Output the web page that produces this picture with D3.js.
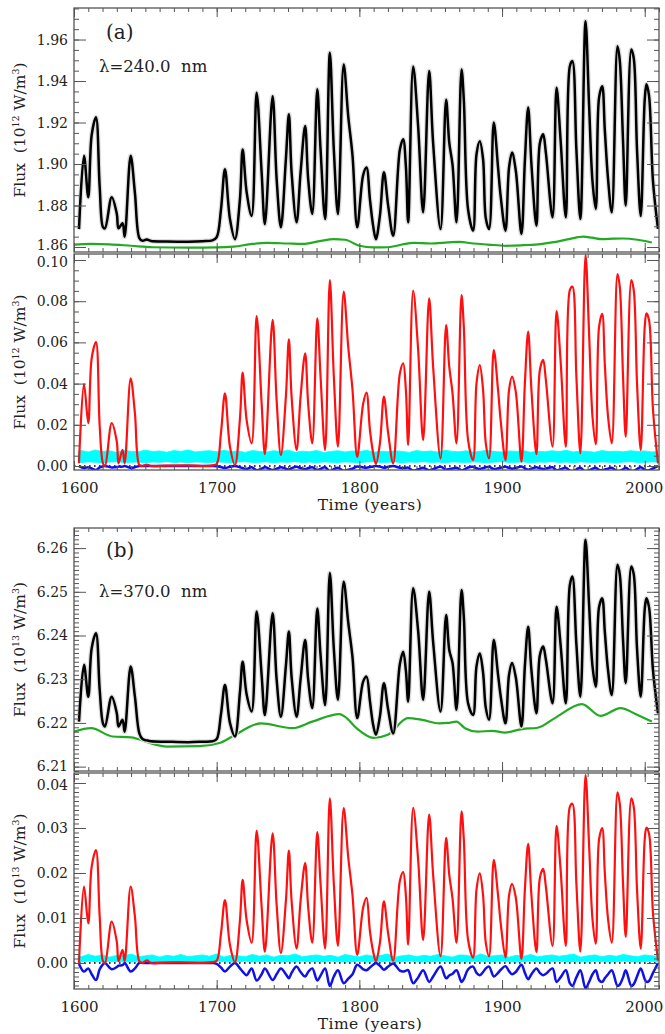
<!DOCTYPE html>
<html>
<head>
<meta charset="utf-8">
<script src="https://cdn.jsdelivr.net/npm/d3@7/dist/d3.min.js"></script>
<style>
  body { margin: 0; background: #fff; }
  svg text { font-family: "DejaVu Serif", serif; fill: #222; }
</style>
</head>
<body>
<svg id="chart" width="665" height="1034"></svg>
<script>
// ---- data --------------------------------------------------------------

// sample years shared by the cycle curves
const years = [
  1603.5,1607,1610,1612.4,1615.4,1618,1620.3,1621.7,1626.4,1630,1631.2,1634,1635.5,1639.7,1642.7,1645.8,1648,1651,1654,1665,1680,1690,1697,
  1700,1703,1705.8,1709.3,1712.8,1716.3,1718.2,1721,1724.5,1728,1731.5,1733.8,1739.2,1742,1745,1748.5,1750.6,1752.5,1756,1758.8,1762,1764.1,1767,1770.5,1772.8,1776,1779.3,1782.1,1785,1789,1792.2,1795.2,1798.5,
  1802.7,1805,1807.4,1809.7,1811.6,1814.4,1817.2,1820.2,1823.7,1828.4,1830.7,1832.6,1834.2,1837.7,1841.2,1844.7,1848.9,1851.7,1856.9,1860.8,1863,1865.3,1868.1,1871.6,1873.2,1876.2,1879.7,1882.1,1884.4,1886.7,1888.6,1890.9,1894.2,1897.2,1899.1,
  1902.4,1904.9,1907,1909.6,1913.6,1916,1918.3,1920.6,1924.1,1926.5,1928.8,1930.7,1935.4,1938.2,1941,1944.7,1947.5,1949.3,1952.1,1954.9,1958.5,1961,1963.4,1965.7,1968,1970.2,1972,1974.3,1976.9,1980.9,1982.5,1984.8,1986.7,1990.6,1992.3,1994.6,1997.2,
  2000,2001.2,2003,2005.8,2009.3
];

// (a) 240 nm total flux, 10^12 W/m^3
const totalA = [
  1.8686,1.9040,1.8840,1.9140,1.9225,1.8890,1.8696,1.8690,1.8840,1.8760,1.8690,1.8715,1.8650,1.9040,1.8860,1.8643,1.8630,1.8636,1.8629,1.8627,1.8626,1.8628,1.8632,
  1.8647,1.8780,1.8975,1.8735,1.8638,1.8830,1.9070,1.8864,1.8750,1.9344, 1.8960,1.8710,1.9327,1.8930,1.8695,1.9023,1.9240,1.8960,1.8719,1.8960, 1.9183,1.8930,1.8759,1.9360,1.9070,1.8735,1.9536,1.9070,1.8759,1.9480, 1.9230,1.9040,1.8695,
  1.8948,1.8983,1.8830,1.8700,1.8638,1.8751,1.8960,1.8799,1.8654,1.9070, 1.9120,1.8990,1.8719,1.9470,1.9180,1.8767,1.9448,1.9100,1.8687,1.9310, 1.9103,1.8996,1.8719,1.9456,1.9310,1.8780,1.8679,1.9047,1.9110,1.9023, 1.8740,1.8687,1.9200,1.8983,1.8840,
  1.8679,1.8983,1.9055,1.8970,1.8663,1.9015,1.9272,1.8999,1.8703,1.9100, 1.9143,1.9055,1.8743,1.9368,1.9119,1.8743,1.9470,1.9496,1.9070,1.8735, 1.9688,1.9284,1.8916,1.8783,1.9320,1.9375,1.9167,1.8927,1.8767,1.9568, 1.9500,1.9110,1.8800,1.9552,1.9510,1.9070,1.8750,
  1.9310,1.9384,1.9330,1.8916,1.8687
];
// (a) faculae (red)
const faculaeA = [
  0.0013,0.0398,0.0208,0.0523,0.0601,0.0194,0.0013,0.0000,0.0208,0.0118,0.0013,0.0078,0.0013,0.0426,0.0256,0.0005,0.0000,0.0007,0.0000,0.0002,0.0003,0.0000,0.0003,
  0.0010,0.0160,0.0353,0.0094,0.0005,0.0230,0.0453,0.0223,0.0110,0.0728, 0.0304,0.0058,0.0709,0.0320,0.0053,0.0337,0.0615,0.0337,0.0078,0.0337, 0.0547,0.0304,0.0110,0.0717,0.0434,0.0078,0.0903,0.0434,0.0094,0.0846, 0.0578,0.0369,0.0044,
  0.0304,0.0356,0.0175,0.0061,0.0010,0.0110,0.0337,0.0159,0.0013,0.0450, 0.0498,0.0369,0.0102,0.0851,0.0563,0.0126,0.0814,0.0482,0.0037,0.0684, 0.0482,0.0353,0.0110,0.0830,0.0676,0.0126,0.0029,0.0401,0.0490,0.0370, 0.0110,0.0037,0.0563,0.0369,0.0215,
  0.0029,0.0369,0.0434,0.0361,0.0021,0.0401,0.0652,0.0369,0.0058,0.0466, 0.0515,0.0418,0.0094,0.0752,0.0515,0.0094,0.0854,0.0871,0.0434,0.0061, 0.1024,0.0644,0.0239,0.0105,0.0676,0.0738,0.0498,0.0239,0.0110,0.0932, 0.0871,0.0434,0.0142,0.0903,0.0854,0.0401,0.0078,
  0.0676,0.0741,0.0709,0.0272,0.0013
];
// (a) sunspots (blue)
const spotsA = [
  -0.0001,-0.0010,-0.0006,-0.0012,-0.0019,-0.0007,-0.0002,0.0000,-0.0007,-0.0005,-0.0003,-0.0003,0.0000,-0.0010,-0.0006,0.0000,0,0,0,0,0,0,0,
  -0.0001,-0.0005,-0.0010,-0.0004,0.0000,-0.0006,-0.0010,-0.0014,-0.0006,-0.0020, -0.0013,-0.0006,-0.0019,-0.0013,-0.0006,-0.0013,-0.0017,-0.0011,-0.0004,-0.0010, -0.0015,-0.0010,-0.0006,-0.0020,-0.0014,-0.0006,-0.0026,-0.0015,-0.0008,-0.0023, -0.0018,-0.0013,-0.0002,
  -0.0007,-0.0008,-0.0005,-0.0002,0.0000,-0.0003,-0.0008,-0.0004,0.0000,-0.0009, -0.0010,-0.0009,-0.0008,-0.0023,-0.0016,-0.0008,-0.0021,-0.0015,-0.0004,-0.0017, -0.0014,-0.0012,-0.0008,-0.0021,-0.0018,-0.0007,-0.0004,-0.0011,-0.0014,-0.0010, -0.0006,-0.0004,-0.0015,-0.0011,-0.0008,
  -0.0004,-0.0009,-0.0013,-0.0010,-0.0002,-0.0011,-0.0018,-0.0013,-0.0006,-0.0011, -0.0014,-0.0012,-0.0006,-0.0021,-0.0016,-0.0008,-0.0023,-0.0026,-0.0016,-0.0008, -0.0028,-0.0021,-0.0013,-0.0008,-0.0019,-0.0021,-0.0017,-0.0013,-0.0008,-0.0026, -0.0024,-0.0016,-0.0008,-0.0026,-0.0024,-0.0015,-0.0006,
  -0.0018,-0.0021,-0.0020,-0.0011,0.0000
];

// (b) 370 nm total flux, 10^13 W/m^3
const totalB = [
  6.2203,6.2333,6.2260,6.2371,6.2405,6.2276,6.2199,6.2192,6.2260,6.2222,6.2192,6.2207,6.2180,6.2329,6.2260,6.2176,6.2163,6.2160,6.2158,6.2157,6.2156,6.2157,6.2158,
  6.2163,6.2220,6.2287,6.2200,6.2169,6.2270,6.2340,6.2265,6.2226,6.2455, 6.2310,6.2218,6.2451,6.2300,6.2214,6.2330,6.2409,6.2305,6.2214,6.2300, 6.2390,6.2300,6.2234,6.2462,6.2355,6.2241,6.2543,6.2370,6.2253,6.2523, 6.2430,6.2350,6.2211,
  6.2295,6.2306,6.2250,6.2195,6.2173,6.2215,6.2291,6.2230,6.2176,6.2335, 6.2363,6.2320,6.2249,6.2508,6.2410,6.2253,6.2500,6.2385,6.2226,6.2447, 6.2367,6.2337,6.2230,6.2504,6.2443,6.2245,6.2218,6.2330,6.2359,6.2315, 6.2235,6.2207,6.2390,6.2310,6.2260,
  6.2199,6.2310,6.2337,6.2305,6.2192,6.2330,6.2420,6.2320,6.2222,6.2355, 6.2375,6.2345,6.2245,6.2466,6.2380,6.2245,6.2515,6.2535,6.2380,6.2260, 6.2619,6.2470,6.2330,6.2283,6.2465,6.2485,6.2410,6.2320,6.2264,6.2562, 6.2540,6.2390,6.2291,6.2558,6.2540,6.2370,6.2260,
  6.2460,6.2485,6.2465,6.2320,6.2222
];
const faculaeB = [
  0.0000,0.0170,0.0088,0.0214,0.0251,0.0103,0.0004,0.0000,0.0092,0.0047,0.0004,0.0029,0.0004,0.0170,0.0103,0.0004,0.0000,0.0006,0.0000,0.0001,0.0001,0.0000,0.0002,
  0.0005,0.0065,0.0140,0.0040,0.0002,0.0095,0.0185,0.0095,0.0045,0.0294, 0.0125,0.0025,0.0288,0.0130,0.0022,0.0138,0.0250,0.0138,0.0032,0.0138, 0.0222,0.0125,0.0045,0.0291,0.0176,0.0032,0.0366,0.0176,0.0038,0.0344, 0.0235,0.0150,0.0018,
  0.0124,0.0145,0.0071,0.0025,0.0004,0.0045,0.0137,0.0065,0.0005,0.0183, 0.0202,0.0150,0.0041,0.0345,0.0229,0.0051,0.0330,0.0196,0.0015,0.0278, 0.0196,0.0143,0.0045,0.0337,0.0275,0.0051,0.0012,0.0163,0.0199,0.0150, 0.0045,0.0015,0.0229,0.0150,0.0087,
  0.0012,0.0150,0.0176,0.0146,0.0009,0.0163,0.0265,0.0150,0.0024,0.0189, 0.0209,0.0170,0.0038,0.0305,0.0209,0.0038,0.0347,0.0354,0.0176,0.0025, 0.0418,0.0262,0.0097,0.0043,0.0275,0.0300,0.0202,0.0097,0.0045,0.0379, 0.0354,0.0176,0.0058,0.0366,0.0347,0.0163,0.0032,
  0.0275,0.0301,0.0288,0.0110,0.0005
];
const spotsB = [
  -0.0002,-0.0019,-0.0012,-0.0025,-0.0038,-0.0014,-0.0003,0.0000,-0.0014,-0.0009,-0.0006,-0.0005,0.0000,-0.0019,-0.0012,0.0000,0,0,0,0,0,0,0,
  -0.0002,-0.0010,-0.0019,-0.0008,0.0000,-0.0012,-0.0019,-0.0027,-0.0012,-0.0039, -0.0025,-0.0012,-0.0038,-0.0025,-0.0012,-0.0025,-0.0034,-0.0022,-0.0008,-0.0020, -0.0030,-0.0020,-0.0012,-0.0039,-0.0028,-0.0012,-0.0051,-0.0030,-0.0016,-0.0045, -0.0035,-0.0025,-0.0004,
  -0.0014,-0.0016,-0.0010,-0.0004,0.0000,-0.0006,-0.0015,-0.0008,-0.0001,-0.0017, -0.0019,-0.0017,-0.0016,-0.0045,-0.0032,-0.0016,-0.0042,-0.0030,-0.0008,-0.0034, -0.0028,-0.0024,-0.0016,-0.0042,-0.0036,-0.0014,-0.0008,-0.0022,-0.0027,-0.0020, -0.0012,-0.0008,-0.0030,-0.0022,-0.0015,
  -0.0007,-0.0018,-0.0025,-0.0020,-0.0004,-0.0022,-0.0036,-0.0025,-0.0012,-0.0022, -0.0027,-0.0024,-0.0012,-0.0042,-0.0032,-0.0016,-0.0045,-0.0051,-0.0032,-0.0016, -0.0056,-0.0042,-0.0025,-0.0016,-0.0038,-0.0042,-0.0034,-0.0025,-0.0016,-0.0051, -0.0048,-0.0032,-0.0016,-0.0051,-0.0047,-0.0030,-0.0012,
  -0.0036,-0.0042,-0.0040,-0.0022,0.0000
];

// green background curves
const baseYearsA = [1600,1612,1625,1640,1655,1680,1700,1712,1725,1735,1750,1760,1772,1782,1790,1800,1810,1820,1830,1838,1850,1862,1870,1880,1890,1903,1915,1927,1935,1947,1957,1963,1970,1978,1985,1995,2005];
const baseA = [1.8612,1.8615,1.8613,1.8606,1.8599,1.8597,1.8598,1.8602,1.8615,1.8620,1.8617,1.8615,1.8628,1.8638,1.8635,1.8606,1.8598,1.8599,1.8612,1.8620,1.8617,1.8622,1.8625,1.8617,1.8612,1.8606,1.8609,1.8614,1.8622,1.8638,1.8650,1.8645,1.8638,1.8640,1.8641,1.8635,1.8622];
const baseYearsB = [1600,1612,1627,1640,1653,1665,1688,1702,1711,1731,1753,1767,1786,1790,1798,1810,1820,1834,1844,1856,1862,1868,1874,1883,1893,1902,1914,1925,1937,1956,1969,1983,1995,2005];
const baseB = [6.2180,6.2188,6.2169,6.2167,6.2154,6.2146,6.2147,6.2154,6.2169,6.2199,6.2188,6.2203,6.2220,6.2214,6.2188,6.2166,6.2173,6.2211,6.2207,6.2199,6.2200,6.2203,6.2188,6.2180,6.2182,6.2178,6.2186,6.2189,6.2211,6.2243,6.2216,6.2234,6.2218,6.2203];

// cyan network band (upper / lower edge)
const netYears = [1603,1605,1610,1615,1620,1625,1630,1635,1640,1645,1650,1655,1660,1665,1670,1675,1680,1685,1690,1695,1700,1705,1710,1715,1720,1725,1730,1735,1740,1745,1750,1755,1760,1765,1770,1775,1780,1785,1790,1795,1800,1805,1810,1815,1820,1825,1830,1835,1840,1845,1850,1855,1860,1865,1870,1875,1880,1885,1890,1895,1900,1905,1910,1915,1920,1925,1930,1935,1940,1945,1950,1955,1960,1965,1970,1975,1980,1985,1990,1995,2000,2005,2009];
const netHiA = [
  0.0072,0.0075,0.0068,0.0078,0.0070,0.0074,0.0066,0.0076,0.0071,0.0069,
  0.0077,0.0070,0.0073,0.0067,0.0075,0.0071,0.0078,0.0068,0.0072,0.0074,
  0.0069,0.0076,0.0070,0.0073,0.0066,0.0075,0.0071,0.0068,0.0074,0.0070,
  0.0077,0.0067,0.0072,0.0069,0.0075,0.0066,0.0071,0.0074,0.0068,0.0073,
  0.0070,0.0076,0.0067,0.0072,0.0069,0.0074,0.0071,0.0066,0.0075,0.0070,
  0.0073,0.0068,0.0077,0.0071,0.0069,0.0074,0.0067,0.0072,0.0076,0.0070,
  0.0068,0.0073,0.0071,0.0075,0.0067,0.0072,0.0069,0.0074,0.0070,0.0076,
  0.0068,0.0073,0.0071,0.0067,0.0075,0.0070,0.0072,0.0069,0.0074,0.0071,
  0.0073,0.0068,0.0070
];
const netLoA = [
  0.0019,0.0017,0.0020,0.0018,0.0016,0.0019,0.0021,0.0017,0.0018,0.0020,
  0.0016,0.0019,0.0018,0.0021,0.0017,0.0019,0.0016,0.0020,0.0018,0.0017,
  0.0020,0.0018,0.0016,0.0019,0.0021,0.0017,0.0018,0.0020,0.0016,0.0019,
  0.0018,0.0021,0.0017,0.0019,0.0016,0.0020,0.0018,0.0017,0.0020,0.0018,
  0.0016,0.0019,0.0021,0.0017,0.0018,0.0020,0.0016,0.0019,0.0018,0.0021,
  0.0017,0.0019,0.0016,0.0020,0.0018,0.0017,0.0020,0.0018,0.0016,0.0019,
  0.0021,0.0017,0.0018,0.0020,0.0016,0.0019,0.0018,0.0021,0.0017,0.0019,
  0.0016,0.0020,0.0018,0.0017,0.0020,0.0018,0.0016,0.0019,0.0021,0.0017,
  0.0018,0.0020,0.0019
];
const netHiB = [
  0.0017,0.0014,0.0019,0.0015,0.0018,0.0013,0.0017,0.0016,0.0020,0.0014,
  0.0016,0.0018,0.0013,0.0017,0.0015,0.0019,0.0014,0.0016,0.0018,0.0015,
  0.0020,0.0013,0.0017,0.0016,0.0014,0.0019,0.0015,0.0018,0.0013,0.0017,
  0.0016,0.0020,0.0014,0.0016,0.0018,0.0015,0.0017,0.0013,0.0019,0.0016,
  0.0014,0.0018,0.0015,0.0017,0.0020,0.0013,0.0016,0.0018,0.0014,0.0017,
  0.0015,0.0019,0.0016,0.0013,0.0018,0.0017,0.0014,0.0020,0.0015,0.0016,
  0.0018,0.0013,0.0017,0.0015,0.0019,0.0014,0.0016,0.0018,0.0015,0.0017,
  0.0020,0.0013,0.0016,0.0018,0.0014,0.0017,0.0015,0.0019,0.0016,0.0014,
  0.0018,0.0016,0.0015
];
const netLoB = [
  0.0003,0.0002,0.0004,0.0003,0.0002,0.0004,0.0003,0.0003,0.0002,0.0004,
  0.0003,0.0004,0.0002,0.0003,0.0003,0.0002,0.0004,0.0003,0.0002,0.0003,
  0.0004,0.0003,0.0002,0.0003,0.0004,0.0002,0.0003,0.0003,0.0004,0.0002,
  0.0003,0.0002,0.0004,0.0003,0.0003,0.0002,0.0004,0.0003,0.0002,0.0003,
  0.0004,0.0002,0.0003,0.0003,0.0004,0.0002,0.0003,0.0004,0.0003,0.0002,
  0.0003,0.0003,0.0004,0.0002,0.0003,0.0002,0.0004,0.0003,0.0003,0.0002,
  0.0004,0.0003,0.0002,0.0003,0.0004,0.0003,0.0002,0.0003,0.0004,0.0002,
  0.0003,0.0003,0.0002,0.0004,0.0003,0.0002,0.0003,0.0004,0.0003,0.0002,
  0.0003,0.0004,0.0003
];

// tick labels
const xTicks = [1600, 1700, 1800, 1900, 2000];
const yTicksA1 = [1.86, 1.88, 1.90, 1.92, 1.94, 1.96];
const yTicksA2 = [0.00, 0.02, 0.04, 0.06, 0.08, 0.10];
const yTicksB1 = [6.21, 6.22, 6.23, 6.24, 6.25, 6.26];
const yTicksB2 = [0.00, 0.01, 0.02, 0.03, 0.04];

[totalA, faculaeA, spotsA, totalB, faculaeB, spotsB].forEach((s, i) => {
  if (s.length !== years.length) throw new Error("length mismatch " + i + ": " + s.length + " vs " + years.length);
});
[netHiA, netLoA, netHiB, netLoB].forEach((s, i) => {
  if (s.length !== netYears.length) throw new Error("net length mismatch " + i);
});

//------------------------------

const W = 665, H = 1034;
const left = 74, right = 659;
const fmt = d3.format(".2f");
const smooth = d3.curveCatmullRom.alpha(0.5);

const x = d3.scaleLinear().domain([1600, 2010]).range([left, right]);

const panels = [
  {top: 8,   bottom: 252, dom: [1.8576, 1.9752],   major: yTicksA1, minor: 0.005, unit: "12", baseYears: baseYearsA, nudge: {1.86: -2}},
  {top: 254, bottom: 470, dom: [-0.00194, 0.10291], major: yTicksA2, minor: 0.005, unit: "12", timeY: 510, nudge: {0.1: 2}},
  {top: 528, bottom: 771, dom: [6.2090, 6.2646],   major: yTicksB1, minor: 0.001, unit: "13", baseYears: baseYearsB, nudge: {6.21: -1}},
  {top: 773, bottom: 989, dom: [-0.00578, 0.04222], major: yTicksB2, minor: 0.001, unit: "13", timeY: 1029, nudge: {0.04: 2}}
];
panels.forEach((p, i) => {
  p.y = d3.scaleLinear().domain(p.dom).range([p.bottom, p.top]);
  p.clip = "clip" + i;
});

const svg = d3.select("#chart");
svg.append("rect").attr("width", W).attr("height", H).attr("fill", "#fff");
const defs = svg.append("defs");

panels.forEach(p => {
  defs.append("clipPath").attr("id", p.clip)
    .append("rect")
    .attr("x", left).attr("y", p.top)
    .attr("width", right - left).attr("height", p.bottom - p.top);
});

function seriesPath(p, xs, ys, curve) {
  return d3.line()
    .x((d, i) => x(xs[i]))
    .y(d => p.y(d))
    .curve(curve || smooth)(ys);
}

function totalCreate(p, total, base) {
  const g = svg.append("g").attr("clip-path", `url(#${p.clip})`);
  g.append("path")
    .attr("d", seriesPath(p, p.baseYears, base, d3.curveMonotoneX))
    .attr("fill", "none")
    .attr("stroke", "#22aa22")
    .attr("stroke-width", 2.2);
  g.append("path")
    .attr("d", seriesPath(p, years, total))
    .attr("fill", "none")
    .attr("stroke", "#dedede")
    .attr("stroke-width", 5)
    .attr("stroke-linejoin", "round");
  g.append("path")
    .attr("d", seriesPath(p, years, total))
    .attr("fill", "none")
    .attr("stroke", "#000")
    .attr("stroke-width", 2.5)
    .attr("stroke-linejoin", "round");
}

function partsCreate(p, fac, spots, hi, lo) {
  const g = svg.append("g").attr("clip-path", `url(#${p.clip})`);
  g.append("path")
    .attr("d", d3.area()
      .x((d, i) => x(netYears[i]))
      .y0((d, i) => p.y(lo[i]))
      .y1(d => p.y(d))(hi))
    .attr("fill", "#00ffff")
    .attr("stroke", "#00ffff")
    .attr("stroke-width", 0.8);
  g.append("line")
    .attr("x1", left).attr("x2", right)
    .attr("y1", p.y(0)).attr("y2", p.y(0))
    .attr("stroke", "#000")
    .attr("stroke-width", 1.6)
    .attr("stroke-dasharray", "1.6,3.4");
  g.append("path")
    .attr("d", seriesPath(p, years, spots))
    .attr("fill", "none")
    .attr("stroke", "#1010e8")
    .attr("stroke-width", 2.5)
    .attr("stroke-linejoin", "round");
  g.append("path")
    .attr("d", seriesPath(p, years, fac))
    .attr("fill", "none")
    .attr("stroke", "#ff1010")
    .attr("stroke-width", 2.2)
    .attr("stroke-linejoin", "round");
}

function minorValues(lo, hi, step) {
  const n0 = Math.ceil(lo / step - 1e-6), n1 = Math.floor(hi / step + 1e-6);
  return d3.range(n0, n1 + 1).map(k => +(k * step).toFixed(4));
}

function styleAxis(g) {
  g.select(".domain").remove();
  g.selectAll(".tick line").attr("stroke", "#555").attr("stroke-width", 1);
  g.attr("font-family", null).attr("font-size", null);
}

function axisCreate(p) {
  const yMinor = minorValues(p.dom[0], p.dom[1], p.minor);
  const xMinor = d3.range(1600, 2011, 10);

  svg.append("g").attr("transform", `translate(${left},0)`)
    .call(d3.axisLeft(p.y).tickValues(yMinor).tickSize(-5).tickFormat(""))
    .call(styleAxis);
  svg.append("g").attr("transform", `translate(${right},0)`)
    .call(d3.axisRight(p.y).tickValues(yMinor).tickSize(-5).tickFormat(""))
    .call(styleAxis);
  svg.append("g").attr("transform", `translate(${right},0)`)
    .call(d3.axisRight(p.y).tickValues(p.major).tickSize(-12).tickFormat(""))
    .call(styleAxis);

  const yl = svg.append("g").attr("transform", `translate(${left},0)`)
    .call(d3.axisLeft(p.y).tickValues(p.major).tickSize(-12).tickPadding(6).tickFormat(fmt))
    .call(styleAxis);
  yl.selectAll("text")
    .attr("font-size", 14)
    .attr("fill", "#222")
    .attr("y", d => p.nudge[d] || 0);

  svg.append("g").attr("transform", `translate(0,${p.top})`)
    .call(d3.axisTop(x).tickValues(xMinor).tickSize(-4).tickFormat(""))
    .call(styleAxis);
  svg.append("g").attr("transform", `translate(0,${p.top})`)
    .call(d3.axisTop(x).tickValues(xTicks).tickSize(-9).tickFormat(""))
    .call(styleAxis);
  svg.append("g").attr("transform", `translate(0,${p.bottom})`)
    .call(d3.axisBottom(x).tickValues(xMinor).tickSize(-4).tickFormat(""))
    .call(styleAxis);
  const xb = svg.append("g").attr("transform", `translate(0,${p.bottom})`)
    .call(d3.axisBottom(x).tickValues(xTicks).tickSize(-9).tickPadding(12)
      .tickFormat(p.timeY ? d3.format("d") : ""))
    .call(styleAxis);
  xb.selectAll("text")
    .attr("font-size", 15)
    .attr("fill", "#222")
    .attr("dx", d => d === 1600 ? 5 : (d === 2000 ? -1 : 0));

  svg.append("rect")
    .attr("x", left).attr("y", p.top)
    .attr("width", right - left).attr("height", p.bottom - p.top)
    .attr("fill", "none")
    .attr("stroke", "#555")
    .attr("stroke-width", 1.3);

  // y title
  const t = svg.append("text")
    .attr("transform", `translate(25,${(p.top + p.bottom) / 2}) rotate(-90)`)
    .attr("text-anchor", "middle")
    .attr("font-size", 15.5)
    .style("white-space", "pre");
  t.append("tspan").text("Flux  (10");
  t.append("tspan").attr("font-size", 9.5).attr("dy", -6).text(p.unit);
  t.append("tspan").attr("dy", 6).text(" W/m");
  t.append("tspan").attr("font-size", 9.5).attr("dy", -6).text("3");
  t.append("tspan").attr("dy", 6).text(")");

  if (p.timeY) {
    svg.append("text")
      .attr("x", 370)
      .attr("y", p.timeY)
      .attr("text-anchor", "middle")
      .attr("font-size", 15.5)
      .attr("letter-spacing", 0.5)
      .text("Time (years)");
  }
}

function labelCreate(tag, lambda, yTag, yLambda) {
  svg.append("text")
    .attr("x", 106).attr("y", yTag)
    .attr("font-size", 20)
    .text(tag);
  svg.append("text")
    .attr("x", 99).attr("y", yLambda)
    .attr("font-size", 16.5)
    .style("white-space", "pre")
    .text(lambda);
}

//------------------------------

totalCreate(panels[0], totalA, baseA);
partsCreate(panels[1], faculaeA, spotsA, netHiA, netLoA);
totalCreate(panels[2], totalB, baseB);
partsCreate(panels[3], faculaeB, spotsB, netHiB, netLoB);

panels.forEach(axisCreate);

labelCreate("(a)", "\u03bb=240.0  nm", 39, 72);
labelCreate("(b)", "\u03bb=370.0  nm", 557, 597);
</script>
</body>
</html>
